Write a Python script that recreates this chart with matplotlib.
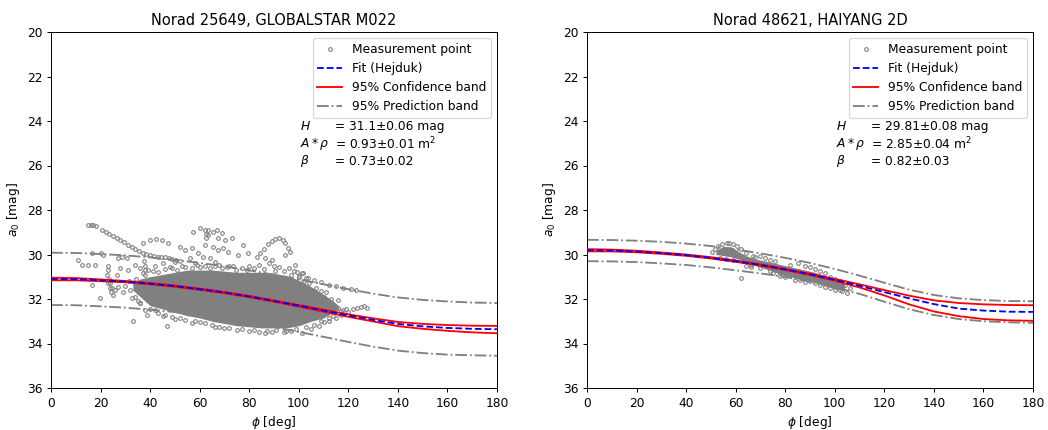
import matplotlib
matplotlib.use("Agg")
import matplotlib.pyplot as plt

# ---------------- data ----------------
phi_grid = [0, 10, 20, 30, 40, 50, 60, 70, 80, 90, 100, 110, 120, 130, 140, 150, 160, 170, 180]

# Left panel: Norad 25649, GLOBALSTAR M022
left_fit = [31.10, 31.11, 31.16, 31.22, 31.31, 31.42, 31.56, 31.71, 31.89, 32.09, 32.30, 32.52, 32.74, 32.94, 33.12, 33.23, 33.30, 33.34, 33.36]
left_conf_up = [31.04, 31.06, 31.12, 31.19, 31.28, 31.39, 31.53, 31.68, 31.86, 32.06, 32.27, 32.48, 32.69, 32.87, 33.03, 33.12, 33.17, 33.20, 33.21]
left_conf_lo = [31.16, 31.16, 31.20, 31.25, 31.34, 31.45, 31.59, 31.74, 31.92, 32.12, 32.34, 32.57, 32.80, 33.01, 33.22, 33.34, 33.43, 33.50, 33.54]
left_pred_up = [29.92, 29.93, 29.98, 30.04, 30.13, 30.24, 30.38, 30.53, 30.71, 30.91, 31.12, 31.34, 31.56, 31.76, 31.93, 32.04, 32.11, 32.16, 32.18]
left_pred_lo = [32.27, 32.28, 32.33, 32.39, 32.48, 32.59, 32.73, 32.88, 33.06, 33.26, 33.48, 33.70, 33.93, 34.14, 34.32, 34.43, 34.50, 34.53, 34.55]

left_core_phi = [33, 36, 40, 45, 50, 55, 60, 65, 70, 75, 80, 85, 90, 95, 100, 105, 110, 114, 116]
left_core_top = [31.3, 31.1, 31.0, 30.9, 30.8, 30.7, 30.7, 30.7, 30.75, 30.8, 30.8, 30.8, 30.85, 30.95, 31.15, 31.45, 31.8, 32.1, 32.3]
left_core_bot = [31.6, 31.9, 32.3, 32.45, 32.6, 32.75, 32.85, 33.0, 33.1, 33.2, 33.25, 33.3, 33.3, 33.3, 33.2, 33.0, 32.85, 32.6, 32.45]

left_pts_phi = [
    15.0, 16.0, 17.0, 18.2, 20.5, 22.0, 23.5, 25.0, 26.5, 28.0, 29.5, 31.0, 32.5, 34.0, 35.5, 37.0, 38.5, 40.0, 41.5, 43.0, 44.5, 46.0, 47.5, 49.0, 50.5, 52.0,
    10.9, 12.5, 15.0, 17.8, 16.5, 20.0, 21.0, 23.0, 23.2, 22.8, 23.5, 23.8, 24.0, 24.2, 16.4, 19.8, 29.0, 33.0, 38.7, 32.7, 27.0, 28.6, 30.7, 27.8, 31.0, 33.9, 35.9, 37.0, 39.0,
    23.0, 24.5, 26.0, 25.0, 27.0, 30.0, 34.0, 36.0, 26.5,
    37.0, 40.0, 42.4, 44.8, 47.2, 52.0, 54.0, 57.3, 60.1, 62.2, 62.5, 62.6, 63.4, 65.4, 67.0, 69.0, 63.4, 67.4, 70.2, 73.0, 62.2, 65.4, 67.4, 69.4, 77.5,
    84.5, 86.0, 87.5, 89.0, 90.5, 92.0, 93.5, 94.5, 95.5, 96.5,
    56.9, 59.3, 56.1, 61.3, 64.2, 66.2, 71.4, 75.5, 79.5, 83.1, 86.4, 94.4, 98.5, 101.3, 103.7,
    42.0, 45.0, 48.0, 50.0, 53.0, 58.0, 60.0, 68.0, 72.0, 73.5, 74.5, 75.5, 76.0, 80.0, 84.0, 88.0, 89.0, 90.0, 90.5, 91.0, 92.0, 96.0, 98.0,
    56.9, 66.2, 86.4, 89.2, 101.3, 55.3, 45.0, 50.0, 60.0, 70.0, 75.0, 80.0, 84.0, 94.0, 97.0, 105.0, 108.0, 110.0, 42.0, 47.0,
    104.0, 106.0, 108.0, 110.0, 112.0, 114.0, 116.0, 118.0, 120.0, 122.0, 123.5, 125.0, 126.5, 127.5,
    100.0, 103.0, 106.0, 109.0, 112.0, 115.0, 118.0, 121.0, 123.0, 99.3, 101.7, 105.7, 110.0, 113.0, 116.0, 117.0, 115.0, 112.0,
    38.0, 41.0, 43.0, 46.0, 49.0, 51.0, 54.0, 57.0, 59.0, 62.0, 64.0, 66.0, 69.0, 71.0, 77.0, 79.0, 82.0, 86.0, 94.0, 97.0, 100.0, 102.0, 104.0, 107.0, 109.0, 111.0,
    36.0, 38.0, 40.0, 43.0, 46.0, 49.0, 52.0, 54.0, 58.0, 62.0, 65.0, 68.0, 72.0, 77.0, 82.0, 87.0, 91.0, 95.0, 99.0, 103.0, 106.0, 109.0, 112.0, 114.0, 117.0, 119.0,
    37.5, 37.8, 38.0, 34.5, 35.0, 31.5, 32.0,
]
left_pts_a0 = [
    28.68, 28.66, 28.68, 28.72, 28.90, 29.00, 29.10, 29.18, 29.26, 29.35, 29.45, 29.56, 29.66, 29.76, 29.85, 29.92, 29.97, 30.02, 30.06, 30.09, 30.10, 30.12, 30.15, 30.18, 30.24, 30.30,
    30.25, 30.47, 30.47, 30.47, 29.92, 29.95, 30.00, 30.50, 30.70, 30.90, 31.10, 31.30, 31.50, 31.70, 31.35, 31.95, 31.70, 33.00, 32.70, 31.95, 30.15, 30.10, 30.15, 30.60, 30.70, 30.47, 30.60, 30.83, 30.70,
    31.30, 31.50, 31.60, 31.80, 31.45, 31.40, 31.90, 32.20, 30.90,
    29.48, 29.35, 29.30, 29.35, 29.50, 29.66, 29.80, 28.99, 28.81, 28.90, 29.10, 29.25, 28.90, 29.00, 28.90, 29.03, 29.12, 29.26, 29.35, 29.26, 29.57, 29.66, 29.80, 29.70, 29.57,
    29.95, 29.75, 29.55, 29.40, 29.30, 29.28, 29.35, 29.50, 29.70, 29.90,
    29.71, 29.93, 30.16, 30.11, 30.16, 30.34, 29.89, 30.02, 29.93, 30.11, 30.16, 30.02, 30.47, 30.83, 31.06,
    30.50, 30.40, 30.55, 30.35, 30.50, 30.40, 30.55, 30.45, 30.50, 30.50, 30.70, 30.90, 31.05, 30.50, 30.45, 30.40, 30.25, 30.50, 30.75, 31.00, 30.55, 30.60, 30.75,
    33.08, 33.26, 33.53, 33.48, 33.53, 32.63, 32.75, 32.90, 33.05, 33.30, 33.40, 33.45, 33.50, 33.50, 33.45, 33.35, 33.20, 33.05, 32.50, 33.20,
    32.00, 32.20, 32.15, 32.30, 32.40, 32.50, 32.40, 32.50, 32.60, 32.45, 32.40, 32.35, 32.30, 32.40,
    30.95, 31.05, 31.15, 31.25, 31.35, 31.42, 31.50, 31.55, 31.60, 30.79, 30.83, 31.68, 31.90, 32.00, 32.05, 32.70, 32.85, 33.00,
    30.90, 30.75, 30.80, 30.65, 30.60, 30.70, 30.55, 30.60, 30.45, 30.50, 30.60, 30.50, 30.60, 30.55, 30.60, 30.70, 30.60, 30.65, 30.75, 30.90, 31.00, 31.20, 31.30, 31.50, 31.65, 31.70,
    32.20, 32.50, 32.45, 32.65, 32.70, 32.80, 32.85, 32.95, 33.00, 33.10, 33.15, 33.25, 33.30, 33.35, 33.40, 33.45, 33.40, 33.42, 33.35, 33.25, 33.15, 33.00, 32.85, 32.75, 32.55, 32.45,
    30.30, 30.50, 30.70, 31.10, 32.10, 31.20, 31.60,
]

# Right panel: Norad 48621, HAIYANG 2D
right_fit = [29.81, 29.82, 29.87, 29.94, 30.03, 30.15, 30.30, 30.47, 30.67, 30.89, 31.14, 31.41, 31.69, 31.97, 32.23, 32.43, 32.52, 32.57, 32.58]
right_conf_up = [29.76, 29.78, 29.83, 29.91, 30.00, 30.12, 30.27, 30.44, 30.64, 30.86, 31.10, 31.34, 31.60, 31.85, 32.06, 32.18, 32.24, 32.27, 32.28]
right_conf_lo = [29.86, 29.86, 29.90, 29.97, 30.06, 30.18, 30.33, 30.50, 30.70, 30.92, 31.18, 31.48, 31.84, 32.24, 32.56, 32.77, 32.90, 32.96, 32.98]
right_pred_up = [29.34, 29.35, 29.38, 29.43, 29.51, 29.62, 29.77, 29.95, 30.15, 30.38, 30.65, 30.95, 31.27, 31.58, 31.82, 31.97, 32.05, 32.09, 32.10]
right_pred_lo = [30.30, 30.31, 30.34, 30.40, 30.47, 30.58, 30.71, 30.85, 31.01, 31.22, 31.47, 31.77, 32.12, 32.46, 32.72, 32.90, 33.00, 33.05, 33.07]

right_core_phi = [52, 55, 58, 61, 64, 68, 72, 76, 80, 84, 88, 92, 96, 100, 104]
right_core_top = [29.8, 29.65, 29.65, 29.85, 30.05, 30.2, 30.3, 30.4, 30.5, 30.6, 30.7, 30.8, 30.95, 31.1, 31.3]
right_core_bot = [30.0, 30.05, 30.1, 30.2, 30.35, 30.5, 30.65, 30.8, 30.95, 31.05, 31.15, 31.25, 31.4, 31.55, 31.6]

right_pts_phi = [50.5, 51.5, 53.0, 54.5, 56.5, 57.5, 59.0, 60.5, 62.0, 53.5, 56.0, 59.0, 62.2, 64.0, 66.0, 68.0, 70.0, 72.0, 74.0, 76.0, 75.0, 78.0, 80.0,
                 82.0, 85.0, 88.0, 90.0, 92.0, 94.0, 96.0, 98.0, 100.0, 102.0, 104.0, 106.0, 105.0, 103.0, 100.0, 96.0, 92.0, 88.0, 84.0,
                 66.0, 70.0, 74.0, 78.0, 86.0, 90.0, 94.0, 98.0, 102.0, 64.0, 67.0]
right_pts_a0 = [29.90, 29.75, 29.60, 29.55, 29.48, 29.50, 29.55, 29.62, 29.75, 30.15, 30.20, 30.25, 31.06, 30.50, 30.55, 30.10, 30.05, 30.15, 30.25, 30.30, 30.85, 30.95, 31.00,
                30.45, 30.40, 30.50, 30.55, 30.65, 30.75, 30.85, 31.00, 31.10, 31.20, 31.35, 31.50, 31.75, 31.65, 31.60, 31.45, 31.30, 31.25, 31.15,
                30.45, 30.60, 30.75, 30.85, 31.15, 31.20, 31.35, 31.50, 31.60, 29.95, 30.05]

titles = ["Norad 25649, GLOBALSTAR M022", "Norad 48621, HAIYANG 2D"]
param_names = [r"$H$", r"$A*\rho$", r"$\beta$"]
left_params = ["= 31.1\u00b10.06 mag", "= 0.93\u00b10.01 m$^2$", "= 0.73\u00b10.02"]
right_params = ["= 29.81\u00b10.08 mag", "= 2.85\u00b10.04 m$^2$", "= 0.82\u00b10.03"]
x_ticks = [0, 20, 40, 60, 80, 100, 120, 140, 160, 180]
y_ticks = [20, 22, 24, 26, 28, 30, 32, 34, 36]

# ---------------- plot ----------------
DPI = 88
fig = plt.figure(figsize=(1048 / DPI, 430 / DPI), dpi=DPI)
axL = fig.add_axes([51 / 1048, 42 / 430, 446 / 1048, 356 / 430])
axR = fig.add_axes([587 / 1048, 42 / 430, 446 / 1048, 356 / 430])

panels = [
    (axL, titles[0], left_fit, left_conf_up, left_conf_lo, left_pred_up, left_pred_lo,
     left_core_phi, left_core_top, left_core_bot, left_pts_phi, left_pts_a0, left_params),
    (axR, titles[1], right_fit, right_conf_up, right_conf_lo, right_pred_up, right_pred_lo,
     right_core_phi, right_core_top, right_core_bot, right_pts_phi, right_pts_a0, right_params),
]

for (ax, title, fit, cu, cl, pu, pl, cphi, ctop, cbot, pphi, pa0, params) in panels:
    ax.plot(phi_grid, pu, "-.", color="gray", lw=1.5, zorder=1, label="95% Prediction band")
    ax.plot(phi_grid, pl, "-.", color="gray", lw=1.5, zorder=1)
    ax.fill_between(cphi, ctop, cbot, color="gray", lw=0, zorder=2)
    ax.plot(pphi, pa0, "o", color="gray", mfc="none", ms=3, mew=0.9, ls="none",
            zorder=2, label="Measurement point")
    ax.plot(phi_grid, fit, "--", color="blue", lw=1.5, zorder=4, label="Fit (Hejduk)")
    ax.plot(phi_grid, cu, "-", color="red", lw=1.5, zorder=3, label="95% Confidence band")
    ax.plot(phi_grid, cl, "-", color="red", lw=1.5, zorder=3)
    ax.set_xlim(0, 180)
    ax.set_ylim(36, 20)
    ax.set_xticks(x_ticks)
    ax.set_yticks(y_ticks)
    ax.set_title(title)
    ax.set_xlabel(r"$\phi$ [deg]")
    ax.set_ylabel(r"$a_0$ [mag]")
    h, l = ax.get_legend_handles_labels()
    order = [l.index(k) for k in ["Measurement point", "Fit (Hejduk)", "95% Confidence band", "95% Prediction band"]]
    ax.legend([h[i] for i in order], [l[i] for i in order], loc="upper right")
    for i, (nm, val) in enumerate(zip(param_names, params)):
        ax.text(100.5, 24.26 + 0.78 * i, nm, va="center", ha="left")
        ax.text(114.5, 24.26 + 0.78 * i, val, va="center", ha="left")

fig.savefig("out.png", dpi=DPI)
